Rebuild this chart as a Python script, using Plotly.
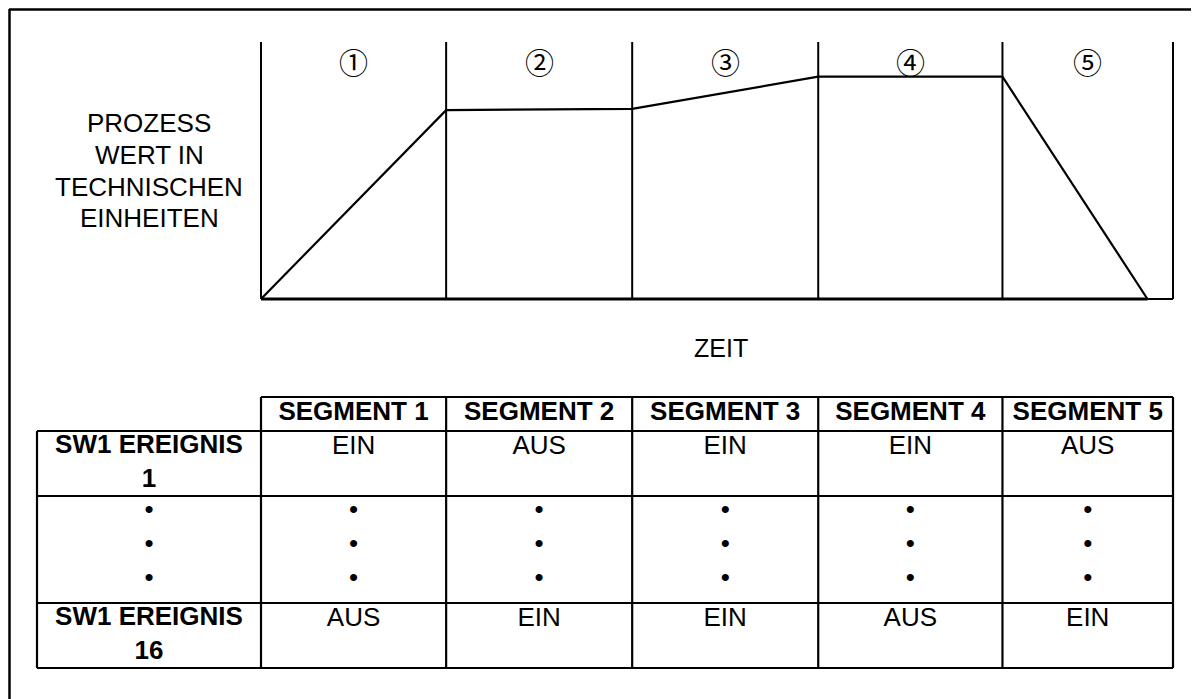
import plotly.graph_objects as go

# process profile (time in arbitrary units, value in % of span)
segment_marks = ["①", "②", "③", "④", "⑤"]
segment_edges = [0, 10.15, 20.35, 30.55, 40.65, 50]
time_pts = [0, 10.15, 20.35, 30.55, 40.65, 48.6]
process_vals = [0, 73.5, 74, 86.5, 86.5, 0]
y_label_lines = ["PROZESS", "WERT IN", "TECHNISCHEN", "EINHEITEN"]

# event table
segments = ["SEGMENT 1", "SEGMENT 2", "SEGMENT 3", "SEGMENT 4", "SEGMENT 5"]
row_labels = ["SW1 EREIGNIS<br>1", "•<br>•<br>•", "SW1 EREIGNIS<br>16"]
event_1 = ["EIN", "AUS", "EIN", "EIN", "AUS"]
event_dots = ["•<br>•<br>•", "•<br>•<br>•", "•<br>•<br>•", "•<br>•<br>•", "•<br>•<br>•"]
event_16 = ["AUS", "EIN", "EIN", "AUS", "EIN"]

# page has an 8px body margin, figure fills the rest of the 1199x699 window
OFF = 8
W, H = 1199 - OFF, 699 - OFF
FONT = "Liberation Sans, Arial, sans-serif"


def px(x):
    return (x - OFF) / W


def py(y):
    return 1 - (y - OFF) / H


# chart box in window pixels: x 261..1173 for 0..50, y 299..42 for 0..100
ux = (1173 - 261) / 50
uy = (299 - 42) / 100

fig = go.Figure()
fig.add_trace(go.Scatter(x=time_pts, y=process_vals, mode="lines",
                         line=dict(color="black", width=2.2), hoverinfo="skip",
                         showlegend=False))

shapes = []
for e in segment_edges:
    shapes.append(dict(type="line", xref="x", yref="y", x0=e, x1=e, y0=0, y1=100,
                       line=dict(color="black", width=2)))
shapes.append(dict(type="line", xref="x", yref="y", x0=0, x1=segment_edges[-1], y0=0, y1=0,
                   line=dict(color="black", width=2)))
shapes.append(dict(type="line", xref="x", yref="y", x0=0, x1=time_pts[-1], y0=0, y1=0,
                   line=dict(color="black", width=3)))

annotations = []
for i, m in enumerate(segment_marks):
    annotations.append(dict(x=(segment_edges[i] + segment_edges[i + 1]) / 2, xref="x",
                            y=py(61), yref="paper", text=m, showarrow=False,
                            xanchor="center", yanchor="middle",
                            font=dict(family="Noto Sans CJK JP", size=29, color="black")))
for line, yy in zip(y_label_lines, [123, 155, 187, 218]):
    annotations.append(dict(x=px(149), y=py(yy), xref="paper", yref="paper", text=line,
                            showarrow=False, xanchor="center", yanchor="middle",
                            font=dict(family=FONT, size=26, color="black")))
annotations.append(dict(x=px(721), y=py(348), xref="paper", yref="paper", text="ZEIT",
                        showarrow=False, xanchor="center", yanchor="middle",
                        font=dict(family=FONT, size=25, color="black")))

# outer frame (runs off the right and bottom edge)
shapes.append(dict(type="line", xref="paper", yref="paper", x0=px(9), x1=1.02, y0=py(9.5), y1=py(9.5),
                   line=dict(color="black", width=2.5)))
shapes.append(dict(type="line", xref="paper", yref="paper", x0=px(9.5), x1=px(9.5), y0=py(9), y1=-0.02,
                   line=dict(color="black", width=2.5)))

# table on its own overlay axes, same horizontal scale as the chart
col_edges = [(37 - 261) / ux] + segment_edges
row_edges = [397, 431, 496, 603, 668]

tx, ty, tt = [], [], []
rows = [[""] + ["<b>%s</b>" % s for s in segments],
        ["<b>%s</b>" % row_labels[0]] + event_1,
        [row_labels[1]] + event_dots,
        ["<b>%s</b>" % row_labels[2]] + event_16]
for r, row in enumerate(rows):
    for c, txt in enumerate(row):
        if not txt:
            continue
        n = txt.count("<br>") + 1
        tx.append((col_edges[c] + col_edges[c + 1]) / 2)
        ty.append(row_edges[r] + 16 + (n - 1) * 33.8 / 2)
        tt.append(txt)

fig.add_trace(go.Scatter(x=tx, y=ty, text=tt, mode="text", textposition="middle center",
                         textfont=dict(family=FONT, size=26, color="black"),
                         xaxis="x2", yaxis="y2", hoverinfo="skip", showlegend=False))

tl = dict(color="black", width=2.2)
shapes.append(dict(type="line", xref="x2", yref="y2", x0=col_edges[1], x1=col_edges[-1],
                   y0=row_edges[0], y1=row_edges[0], line=tl))
for y in row_edges[1:]:
    shapes.append(dict(type="line", xref="x2", yref="y2", x0=col_edges[0], x1=col_edges[-1],
                       y0=y, y1=y, line=tl))
shapes.append(dict(type="line", xref="x2", yref="y2", x0=col_edges[0], x1=col_edges[0],
                   y0=row_edges[1], y1=row_edges[-1], line=tl))
for x in col_edges[1:]:
    shapes.append(dict(type="line", xref="x2", yref="y2", x0=x, x1=x,
                       y0=row_edges[0], y1=row_edges[-1], line=tl))

hidden = dict(visible=False, showgrid=False, zeroline=False, fixedrange=True)
fig.update_layout(
    width=W, height=H,
    margin=dict(l=0, r=0, t=0, b=0),
    paper_bgcolor="white", plot_bgcolor="rgba(0,0,0,0)",
    xaxis=dict(domain=[px(261 - ux), px(1173 + ux)], range=[-1, 51], **hidden),
    yaxis=dict(domain=[py(299 + 3 * uy), py(42 - 3 * uy)], range=[-3, 103], **hidden),
    xaxis2=dict(domain=[0, 1], range=[(OFF - 261) / ux, (1199 - 261) / ux], anchor="y2", **hidden),
    yaxis2=dict(domain=[0, 1], range=[699, OFF], anchor="x2", **hidden),
    shapes=shapes,
    annotations=annotations,
)

fig.write_html("out.html")
